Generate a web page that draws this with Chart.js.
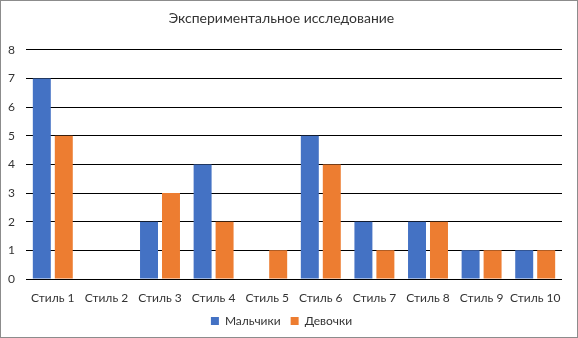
<!DOCTYPE html>
<html>
<head>
<meta charset="utf-8">
<script src="https://cdn.jsdelivr.net/npm/chart.js@4/dist/chart.umd.min.js"></script>
<style>
html,body{margin:0;padding:0;background:#fff;}
#wrap{position:absolute;left:0;top:0;width:576px;height:336px;border:1px solid #8c8c8c;background:#fff;}
</style>
</head>
<body>
<div id="wrap"><canvas id="c" width="576" height="336"></canvas></div>
<script>
const titleText = 'Экспериментальное исследование';
const categories = ['Стиль 1','Стиль 2','Стиль 3','Стиль 4','Стиль 5','Стиль 6','Стиль 7','Стиль 8','Стиль 9','Стиль 10'];
const boys = [7,0,2,4,0,5,2,2,1,1];
const girls = [5,0,3,2,1,4,1,2,1,1];
const seriesNames = ['Мальчики','Девочки'];
const yTicks = [0,1,2,3,4,5,6,7,8];

const FONT = 'Lato, "Liberation Sans", sans-serif';
const TXT = '#333333';

new Chart(document.getElementById('c'), {
  type: 'bar',
  data: {
    labels: categories,
    datasets: [
      {label: seriesNames[0], data: boys, backgroundColor: '#4472C4', barPercentage: 0.818, categoryPercentage: 0.82},
      {label: seriesNames[1], data: girls, backgroundColor: '#ED7D31', barPercentage: 0.818, categoryPercentage: 0.82}
    ]
  },
  options: {
    responsive: false,
    animation: false,
    devicePixelRatio: 1,
    layout: {padding: {left: 0, right: 15, top: 0, bottom: 0}},
    plugins: {
      title: {display: true, text: titleText, color: TXT, font: {family: FONT, size: 14, weight: 'normal'}, padding: {top: 9, bottom: 23}},
      legend: {position: 'bottom', labels: {color: TXT, font: {family: FONT, size: 12}, boxWidth: 8, boxHeight: 8, padding: 10}},
      tooltip: {enabled: false}
    },
    scales: {
      x: {
        grid: {display: false, drawTicks: false},
        border: {display: false},
        ticks: {color: TXT, font: {family: FONT, size: 12}, padding: 12, maxRotation: 0, autoSkip: false},
        afterFit: s => { s.height = 26; }
      },
      y: {
        min: 0, max: 8,
        afterBuildTicks: s => { s.ticks = yTicks.map(v => ({value: v})); },
        grid: {color: '#000', lineWidth: 1, drawTicks: false},
        border: {display: false},
        ticks: {color: TXT, font: {family: FONT, size: 12}, padding: 11, stepSize: 1},
        afterFit: s => { s.width = 25; }
      }
    }
  }
});
</script>
</body>
</html>
